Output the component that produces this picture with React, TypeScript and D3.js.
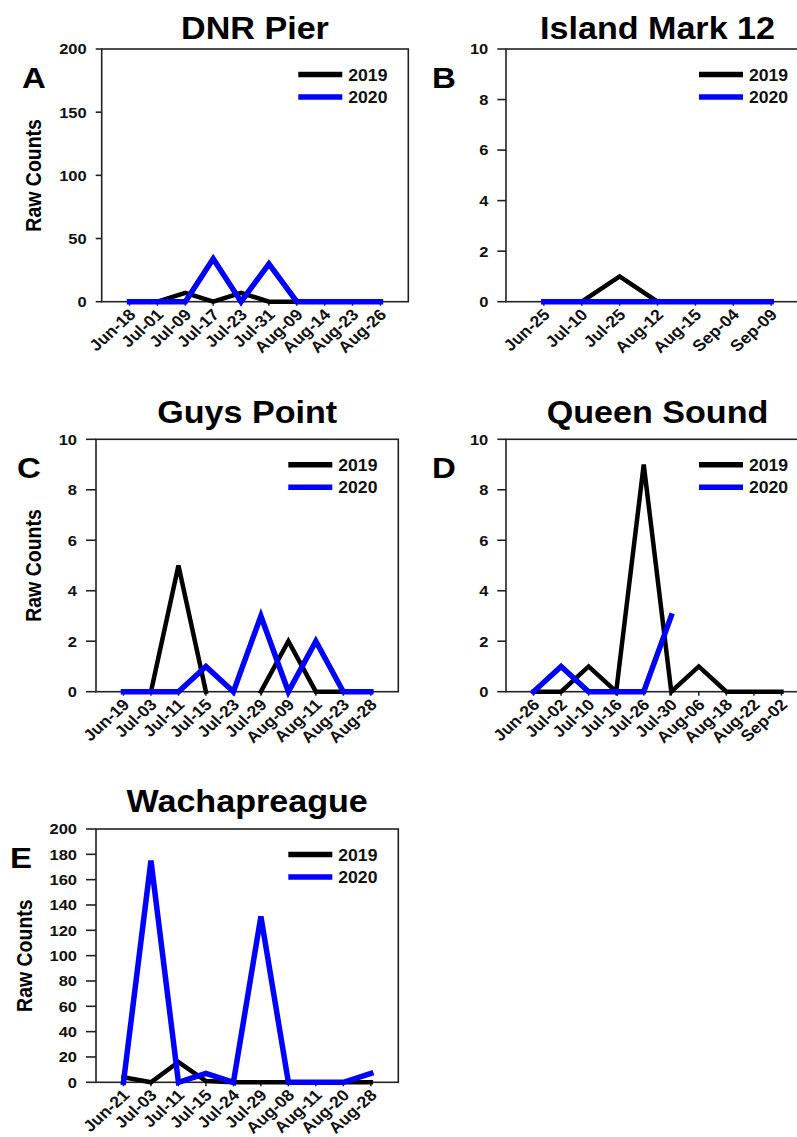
import React from 'react';
import * as d3 from 'd3';

// ---------- DATA ----------
const datesA = ["Jun-18", "Jul-01", "Jul-09", "Jul-17", "Jul-23", "Jul-31", "Aug-09", "Aug-14", "Aug-23", "Aug-26"];
const a2019: (number | null)[] = [0, 0, 7, 0, 7, 0, 0, 0, 0, 0];
const a2020: (number | null)[] = [0, 0, 0, 34, 0, 30, 0, 0, 0, 0];
const ticksA = [0, 50, 100, 150, 200];

const datesB = ["Jun-25", "Jul-10", "Jul-25", "Aug-12", "Aug-15", "Sep-04", "Sep-09"];
const b2019: (number | null)[] = [0, 0, 1, 0, 0, 0, 0];
const b2020: (number | null)[] = [0, 0, 0, 0, 0, 0, 0];
const ticksB = [0, 2, 4, 6, 8, 10];

const datesC = ["Jun-19", "Jul-03", "Jul-11", "Jul-15", "Jul-23", "Jul-29", "Aug-09", "Aug-11", "Aug-23", "Aug-28"];
const c2019: (number | null)[] = [0, 0, 5, 0, null, 0, 2, 0, 0, 0];
const c2020: (number | null)[] = [0, 0, 0, 1, 0, 3, 0, 2, 0, 0];
const ticksC = [0, 2, 4, 6, 8, 10];

const datesD = ["Jun-26", "Jul-02", "Jul-10", "Jul-16", "Jul-26", "Jul-30", "Aug-06", "Aug-18", "Aug-22", "Sep-02"];
const d2019: (number | null)[] = [0, 0, 1, 0, 9, 0, 1, 0, 0, 0];
const d2020: (number | null)[] = [0, 1, 0, 0, 0, 3, null, null, null, null];
const ticksD = [0, 2, 4, 6, 8, 10];

const datesE = ["Jun-21", "Jul-03", "Jul-11", "Jul-15", "Jul-24", "Jul-29", "Aug-08", "Aug-11", "Aug-20", "Aug-28"];
const e2019: (number | null)[] = [4, 0, 16, 1, 0, 0, 0, 0, 0, 0];
const e2020: (number | null)[] = [0, 175, 0, 7, 0, 131, 0, 0, 0, 7];
const ticksE = [0, 20, 40, 60, 80, 100, 120, 140, 160, 180, 200];

const legendLabels = ["2019", "2020"];
const yAxisTitle = "Raw Counts";

// ---------- LAYOUT / STYLE ----------
const FONT = "'Liberation Sans', Arial, Helvetica, sans-serif";
const SX = 1.1;
const AXIS = "#222";
const COL19 = "#000000";
const COL20 = "#0000ff";

const panels = [
  { id: "A", title: "DNR Pier", dates: datesA, s19: a2019, s20: a2020, ticks: ticksA,
    left: 101.7, right: 408.3, top: 49, bottom: 301.7, titleY: 39, lx: 22, ly: 88, tickLen: 6, ylabX: 41 },
  { id: "B", title: "Island Mark 12", dates: datesB, s19: b2019, s20: b2020, ticks: ticksB,
    left: 506, right: 809, top: 49, bottom: 301.7, titleY: 39, lx: 432, ly: 88, tickLen: 8.7, ylabX: null },
  { id: "C", title: "Guys Point", dates: datesC, s19: c2019, s20: c2020, ticks: ticksC,
    left: 96, right: 398.3, top: 439.3, bottom: 691.7, titleY: 423, lx: 17, ly: 478, tickLen: 10, ylabX: 41 },
  { id: "D", title: "Queen Sound", dates: datesD, s19: d2019, s20: d2020, ticks: ticksD,
    left: 506, right: 809, top: 439.3, bottom: 691.7, titleY: 423, lx: 432, ly: 478, tickLen: 8.7, ylabX: null },
  { id: "E", title: "Wachapreague", dates: datesE, s19: e2019, s20: e2020, ticks: ticksE,
    left: 96, right: 398.3, top: 829, bottom: 1082.3, titleY: 811.7, lx: 10, ly: 868, tickLen: 10, ylabX: 32 },
];

function Panel({ p }: { p: any }) {
  const n = p.dates.length;
  const x = d3.scaleLinear().domain([0, n + 1]).range([p.left, p.right]);
  const yMax = p.ticks[p.ticks.length - 1];
  const y = d3.scaleLinear().domain([0, yMax]).range([p.bottom, p.top]);
  const line = d3
    .line<number | null>()
    .defined((d) => d != null)
    .x((_, i) => x(i + 1))
    .y((d) => y(d as number));

  const cx = (p.left + p.right) / 2;
  const cy = (p.top + p.bottom) / 2;
  const legY1 = p.top + 25.5;
  const legY2 = p.top + 48;

  return (
    <g>
      <text transform={`translate(${cx},${p.titleY}) scale(${SX},1)`} textAnchor="middle"
        fontFamily={FONT} fontWeight="bold" fontSize={31} fill="#000">{p.title}</text>
      <text transform={`translate(${p.lx},${p.ly}) scale(${SX},1)`}
        fontFamily={FONT} fontWeight="bold" fontSize={30} fill="#000">{p.id}</text>
      {p.ylabX != null && (
        <text transform={`translate(${p.ylabX},${cy}) scale(${SX},1) rotate(-90)`} textAnchor="middle"
          fontFamily={FONT} fontWeight="bold" fontSize={19.5} fill="#000">{yAxisTitle}</text>
      )}
      <rect x={p.left} y={p.top} width={p.right - p.left} height={p.bottom - p.top}
        fill="none" stroke={AXIS} strokeWidth={1.6} />
      {p.ticks.map((t: number) => (
        <g key={"yt" + t}>
          <line x1={p.left - p.tickLen} x2={p.left} y1={y(t)} y2={y(t)} stroke={AXIS} strokeWidth={1.6} />
          <text transform={`translate(${p.left - p.tickLen - 9},${y(t)}) scale(${SX},1)`} textAnchor="end"
            dy="0.36em" fontFamily={FONT} fontWeight="bold" fontSize={15} fill="#111">{t}</text>
        </g>
      ))}
      {p.dates.map((d: string, i: number) => (
        <g key={"xt" + d + i}>
          <line x1={x(i + 1)} x2={x(i + 1)} y1={p.bottom} y2={p.bottom + 4} stroke={AXIS} strokeWidth={1.5} />
          <text transform={`translate(${x(i + 1) + 7},${p.bottom + 14}) scale(${SX},1) rotate(-45)`}
            textAnchor="end" fontFamily={FONT} fontWeight="bold" fontSize={16} fill="#111">{d}</text>
        </g>
      ))}
      <path d={line(p.s19) || ""} fill="none" stroke={COL19} strokeWidth={4.5} strokeLinecap="square" />
      <path d={line(p.s20) || ""} fill="none" stroke={COL20} strokeWidth={5.5} strokeLinecap="square" />
      <line x1={p.right - 110} x2={p.right - 66} y1={legY1} y2={legY1} stroke={COL19} strokeWidth={5.5} />
      <line x1={p.right - 110} x2={p.right - 66} y1={legY2} y2={legY2} stroke={COL20} strokeWidth={5.5} />
      <text transform={`translate(${p.right - 60},${legY1 + 6}) scale(${SX},1)`}
        fontFamily={FONT} fontWeight="bold" fontSize={16} fill="#111">{legendLabels[0]}</text>
      <text transform={`translate(${p.right - 60},${legY2 + 6}) scale(${SX},1)`}
        fontFamily={FONT} fontWeight="bold" fontSize={16} fill="#111">{legendLabels[1]}</text>
    </g>
  );
}

export default function App() {
  return (
    <svg width={797} height={1137} viewBox="0 0 797 1137"
      style={{ position: "absolute", left: 0, top: 0, display: "block", background: "#fff" }}>
      <rect x={0} y={0} width={797} height={1137} fill="#fff" />
      {panels.map((p) => (
        <Panel key={p.id} p={p} />
      ))}
    </svg>
  );
}
